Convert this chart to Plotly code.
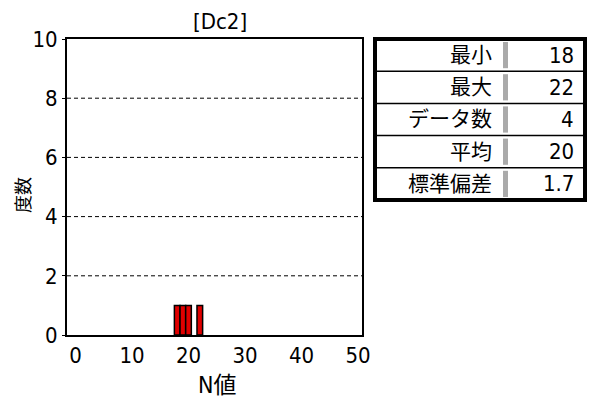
import plotly.graph_objects as go

# Data
values = [18, 19, 20, 22]
counts = [1, 1, 1, 1]
stat_labels = ["最小", "最大", "データ数", "平均", "標準偏差"]
stat_values = ["18", "22", "4", "20", "1.7"]
title = "[Dc2]"
x_title = "N値"
y_title = "度数"
x_ticks = [0, 10, 20, 30, 40, 50]
y_ticks = [0, 2, 4, 6, 8, 10]

FONT = "DejaVu Sans Condensed, Noto Sans CJK JP, sans-serif"
W, H = 594, 403
L, R, T, B = 67, 362, 39, 335

def px(x):
    return (x - L) / (R - L)

def py(y):
    return (B - y) / (B - T)

fig = go.Figure()
fig.add_trace(go.Bar(
    x=values, y=counts, width=1,
    marker=dict(color="#e00000", line=dict(color="#000000", width=1.5)),
))

shapes = []
annotations = []
# dashed gridlines
for v in y_ticks[1:-1]:
    shapes.append(dict(type="line", xref="paper", yref="y", x0=0, x1=1, y0=v, y1=v,
                       line=dict(color="black", width=1, dash="4px,3px"), layer="below"))

# stats table
tl, tr, tt, tb = 375, 585, 39, 200
n = len(stat_labels)
rh = (tb - tt) / n
shapes.append(dict(type="rect", xref="paper", yref="paper", x0=px(tl), x1=px(tr),
                   y0=py(tb), y1=py(tt), line=dict(color="black", width=4),
                   fillcolor="white"))
for i in range(1, n):
    yy = tt + i * rh
    shapes.append(dict(type="line", xref="paper", yref="paper", x0=px(tl), x1=px(tr),
                       y0=py(yy), y1=py(yy), line=dict(color="black", width=1.5)))
for i in range(n):
    y0 = tt + i * rh + 3
    y1 = tt + (i + 1) * rh - 3
    shapes.append(dict(type="rect", xref="paper", yref="paper", x0=px(503), x1=px(508),
                       y0=py(y1), y1=py(y0), line=dict(width=0), fillcolor="#aaaaaa"))
    yc = tt + (i + 0.5) * rh
    annotations.append(dict(xref="paper", yref="paper", x=px(494), y=py(yc),
                            xanchor="right", yanchor="middle", showarrow=False,
                            text=stat_labels[i], font=dict(size=21, color="black", family=FONT)))
    annotations.append(dict(xref="paper", yref="paper", x=px(576), y=py(yc),
                            xanchor="right", yanchor="middle", showarrow=False,
                            text=stat_values[i], font=dict(size=22, color="black", family=FONT)))

annotations.append(dict(xref="paper", yref="paper", x=px(220), y=py(21),
                        xanchor="center", yanchor="middle", showarrow=False,
                        text=title, font=dict(size=22, color="black", family=FONT)))
annotations.append(dict(xref="paper", yref="paper", x=px(217), y=py(385),
                        xanchor="center", yanchor="middle", showarrow=False,
                        text=x_title, font=dict(size=23, color="black", family=FONT)))
annotations.append(dict(xref="paper", yref="paper", x=px(24), y=py(195),
                        xanchor="center", yanchor="middle", showarrow=False,
                        textangle=-90, text=y_title,
                        font=dict(size=18, color="black", family=FONT)))

fig.update_layout(
    width=W, height=H,
    margin=dict(l=L, r=W - R, t=T, b=H - B),
    paper_bgcolor="white", plot_bgcolor="white",
    showlegend=False,
    font=dict(family=FONT, color="black", size=20),
    shapes=shapes, annotations=annotations,
    xaxis=dict(range=[-1.5, 50.7], tickvals=x_ticks, showgrid=False, zeroline=False,
               showline=True, linecolor="black", linewidth=2, mirror=True,
               ticks="", tickfont=dict(size=22, family=FONT)),
    yaxis=dict(range=[0, 10], tickvals=y_ticks, showgrid=False, zeroline=False,
               showline=True, linecolor="black", linewidth=2, mirror=True,
               ticks="outside", ticklen=3, tickcolor="black",
               tickfont=dict(size=22, family=FONT)),
)

fig.write_html("out.html", config={"displayModeBar": False},
               post_script="document.body.style.margin='0';")
